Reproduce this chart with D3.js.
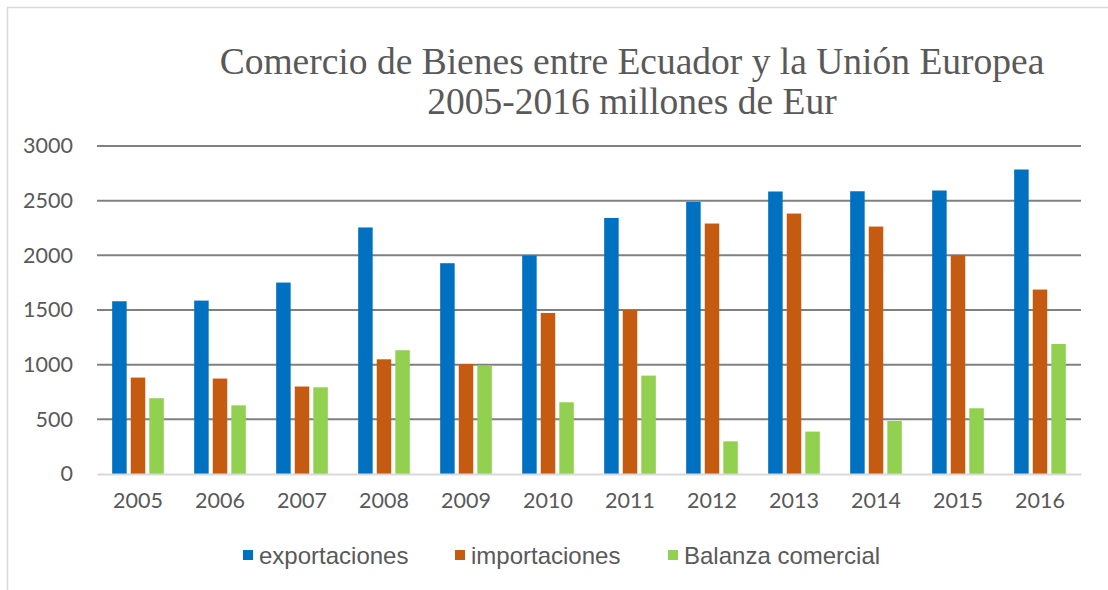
<!DOCTYPE html>
<html lang="es">
<head>
<meta charset="UTF-8">
<script src="https://d3js.org/d3.v7.min.js"></script>
<style>
  body { margin: 0; background: #fff; }
  #plot { position: absolute; width: 1108px; height: 590px; }
</style>
</head>
<body>
<div id="plot"></div>
<script>
// data
const years = ["2005","2006","2007","2008","2009","2010","2011","2012","2013","2014","2015","2016"];
const series = ["exportaciones", "importaciones", "Balanza comercial"];
const exportaciones = [1580, 1586, 1751, 2255, 1928, 1998, 2342, 2489, 2584, 2586, 2593, 2785];
const importaciones = [882, 873, 800, 1049, 1006, 1473, 1500, 2291, 2382, 2263, 2001, 1687];
const balanza = [693, 628, 793, 1132, 992, 656, 900, 299, 388, 485, 601, 1189];
const yTicks = [0, 500, 1000, 1500, 2000, 2500, 3000];
const colors = ["#0070C0", "#C55A11", "#92D050"];

function draw() {
  const width = 1108, height = 590;
  const margin = {top: 146, right: 27, bottom: 116, left: 97};
  const textGray = "#595959";

  const svg = d3.select("#plot").append("svg")
      .attr("width", width)
      .attr("height", height);

  // chart frame
  svg.append("rect")
      .attr("x", 7.5).attr("y", 7.5)
      .attr("width", width + 10).attr("height", height + 10)
      .attr("fill", "none")
      .attr("stroke", "#d9d9d9")
      .attr("stroke-width", 1.5);

  // title
  const title = svg.append("text")
      .attr("text-anchor", "middle")
      .attr("fill", textGray)
      .style("font-family", "'Liberation Serif', 'Times New Roman', serif")
      .style("font-size", "37.5px");
  title.append("tspan").attr("x", 632).attr("y", 74)
      .text("Comercio de Bienes entre Ecuador y la Unión Europea");
  title.append("tspan").attr("x", 632).attr("y", 114)
      .text("2005-2016 millones de Eur");

  const x0 = d3.scaleBand()
      .domain(years)
      .range([margin.left, width - margin.right]);

  const bw = x0.bandwidth();
  const x1 = d3.scaleBand()
      .domain(series)
      .range([bw * 0.185, bw * 0.815])
      .paddingInner(0.22);

  const y = d3.scaleLinear()
      .domain([0, 3000])
      .range([height - margin.bottom, margin.top]);

  // gridlines
  svg.append("g")
    .selectAll("line")
    .data(yTicks.filter(d => d > 0))
    .join("line")
      .attr("x1", margin.left)
      .attr("x2", width - margin.right)
      .attr("y1", d => y(d))
      .attr("y2", d => y(d))
      .attr("stroke", "#808080")
      .attr("stroke-width", 2);

  // y axis labels
  const yAxis = d3.axisLeft(y).tickValues(yTicks).tickFormat(d3.format("d")).tickSize(0).tickPadding(24);
  svg.append("g")
      .attr("transform", `translate(${margin.left},0)`)
      .call(yAxis)
      .call(g => g.select(".domain").remove())
      .call(g => g.selectAll("text")
          .attr("fill", textGray)
          .style("font-family", "Lato, 'Open Sans', sans-serif")
          .style("font-size", "21.5px"));

  // bars
  const rows = years.map((yr, i) => ({
    year: yr,
    values: [exportaciones[i], importaciones[i], balanza[i]]
  }));

  const groups = svg.append("g")
    .selectAll("g")
    .data(rows)
    .join("g")
      .attr("transform", d => `translate(${x0(d.year)},0)`);

  groups.selectAll("rect")
    .data(d => d.values.map((v, k) => ({key: series[k], value: v, k: k})))
    .join("rect")
      .attr("x", d => x1(d.key))
      .attr("width", x1.bandwidth())
      .attr("y", d => y(d.value))
      .attr("height", d => y(0) - y(d.value))
      .attr("fill", d => colors[d.k]);

  // baseline + x axis labels
  const xAxis = d3.axisBottom(x0).tickSize(0).tickPadding(19);
  svg.append("g")
      .attr("transform", `translate(0,${y(0)})`)
      .call(xAxis)
      .call(g => g.select(".domain")
          .attr("stroke", "#d9d9d9")
          .attr("stroke-width", 2))
      .call(g => g.selectAll("text")
          .attr("fill", textGray)
          .style("font-family", "Lato, 'Open Sans', sans-serif")
          .style("font-size", "21.5px"));

  // legend
  const legendX = [243, 455, 668];
  const legend = svg.append("g")
    .selectAll("g")
    .data(series)
    .join("g")
      .attr("transform", (d, i) => `translate(${legendX[i]},550)`);

  legend.append("rect")
      .attr("width", 10)
      .attr("height", 10)
      .attr("fill", (d, i) => colors[i]);

  legend.append("text")
      .attr("x", 16)
      .attr("y", 14)
      .attr("fill", textGray)
      .style("font-family", "'Liberation Sans', Arial, sans-serif")
      .style("font-size", "24px")
      .text(d => d);
}

draw();
</script>
</body>
</html>
